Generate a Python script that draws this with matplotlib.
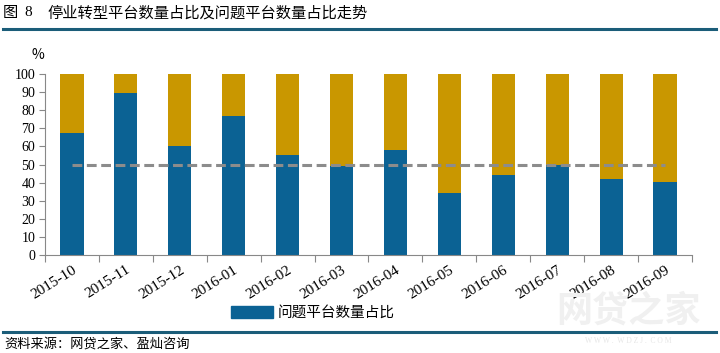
import matplotlib
matplotlib.use("Agg")
import matplotlib.pyplot as plt
from matplotlib.lines import Line2D
from matplotlib.patches import Patch

plt.rcParams["font.family"] = ["Noto Sans CJK SC", "DejaVu Sans"]

# data (%)
months = ["2015-10", "2015-11", "2015-12", "2016-01", "2016-02", "2016-03",
          "2016-04", "2016-05", "2016-06", "2016-07", "2016-08", "2016-09"]
problem_share = [67.5, 89.7, 60.0, 77.0, 55.0, 49.0, 58.0, 34.0, 44.2, 49.7, 42.0, 40.3]
stopped_share = [32.5, 10.3, 40.0, 23.0, 45.0, 51.0, 42.0, 66.0, 55.8, 50.3, 58.0, 59.7]
reference_line = [50, 50, 50, 50, 50, 50, 50, 50, 50, 50, 50, 50]
y_ticks = [0, 10, 20, 30, 40, 50, 60, 70, 80, 90, 100]

BLUE = "#0b6294"
GOLD = "#c99700"
DARK = "#1b5d79"
SERIF = ["Liberation Serif", "DejaVu Serif"]

fig = plt.figure(figsize=(7.2, 3.53), dpi=100)
ax = fig.add_axes([45 / 720, 1 - 255 / 353, (692 - 45) / 720, (255 - 74) / 353])

x = list(range(len(months)))
ax.bar(x, problem_share, width=0.43, color=BLUE, zorder=2)
ax.bar(x, stopped_share, width=0.43, bottom=problem_share, color=GOLD, zorder=2)
ax.plot(x, reference_line, color="#8c8c8c", linewidth=2.2, dashes=(3.2, 1.5), zorder=3)

ax.set_xlim(-0.5, len(months) - 0.5)
ax.set_ylim(0, 100)
ax.set_yticks(y_ticks)
ax.set_yticklabels([str(v) for v in y_ticks], family=SERIF, fontsize=10)
ax.set_xticks(x)
ax.set_xticklabels(months, family=SERIF, fontsize=11, rotation=32,
                   ha="right", va="top", rotation_mode="anchor")
ax.set_xticks([i - 0.5 for i in range(len(months) + 1)], minor=True)
ax.tick_params(axis="x", which="major", length=0, pad=6)
ax.tick_params(axis="x", which="minor", length=5, color="#888888", width=0.8)
ax.tick_params(axis="y", length=4, color="#888888", width=0.8, pad=3)
for side in ("top", "right"):
    ax.spines[side].set_visible(False)
for side in ("left", "bottom"):
    ax.spines[side].set_color("#888888")
    ax.spines[side].set_linewidth(0.8)

fig.text(38 / 720, 1 - 55 / 353, "%", fontsize=10, ha="center", va="center")

# legend (only the blue series is listed in the original)
fig.legend(handles=[Patch(color=BLUE)], labels=["问题平台数量占比"],
           loc="center", bbox_to_anchor=(313 / 720, 1 - 313 / 353),
           frameon=False, fontsize=10.5, handlelength=2.9, handleheight=0.9,
           handletextpad=0.3)

# header and footer
fig.text(3 / 720, 1 - 13 / 353, "图", fontsize=11, va="center", ha="left")
fig.text(24 / 720, 1 - 13 / 353, "8", fontsize=11, va="center", ha="left", family=SERIF)
fig.text(48 / 720, 1 - 13 / 353, "停业转型平台数量占比及问题平台数量占比走势",
         fontsize=11, va="center", ha="left")
fig.add_artist(Line2D([3 / 720, 716 / 720], [1 - 28.7 / 353] * 2, color=DARK, linewidth=2.2))
fig.add_artist(Line2D([3 / 720, 716 / 720], [1 - 331.5 / 353] * 2, color=DARK, linewidth=2.2))
fig.text(4 / 720, 1 - 345 / 353, "资料来源：网贷之家、盈灿咨询", fontsize=9.5, va="center", ha="left")

# faint watermark
fig.text(628 / 720, 1 - 311 / 353, "网贷之家", fontsize=26, color="#f0f0f0",
         va="center", ha="center", fontweight="bold", zorder=0)
fig.text(628 / 720, 1 - 341 / 353, "W W W .  W D Z J .  C O M", fontsize=5.5, color="#e6e6e6",
         va="center", ha="center", family=SERIF)

fig.savefig("out.png", dpi=100)
